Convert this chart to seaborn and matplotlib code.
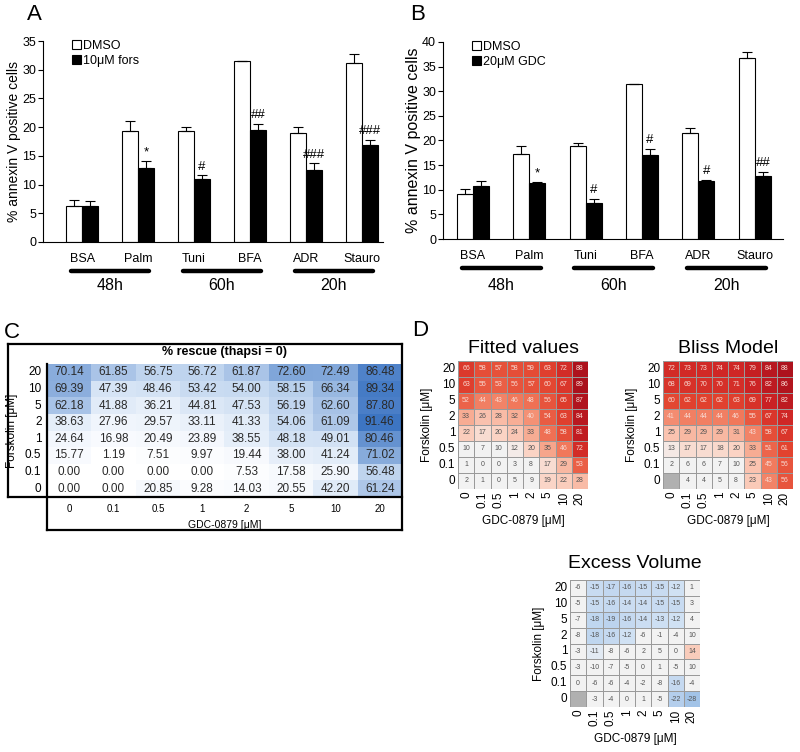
import numpy as np
import pandas as pd
import matplotlib
matplotlib.use('Agg')
import matplotlib.pyplot as plt
import seaborn as sns
from matplotlib.colors import LinearSegmentedColormap
from matplotlib.lines import Line2D

sns.set_theme(style='ticks')
plt.rcParams['font.family'] = ['Liberation Sans', 'DejaVu Sans']
plt.rcParams.update({'text.color': 'black', 'axes.labelcolor': 'black',
                     'xtick.color': 'black', 'ytick.color': 'black',
                     'axes.edgecolor': 'black'})

# ---------------- data ----------------
categories = ['BSA', 'Palm', 'Tuni', 'BFA', 'ADR', 'Stauro']
time_groups = ['48h', '60h', '20h']

a_dmso = [6.3, 19.3, 19.3, 31.5, 18.9, 31.1]
a_dmso_err = [1.1, 1.7, 0.7, 0.0, 1.2, 1.7]
a_fors = [6.3, 12.8, 11.0, 19.5, 12.6, 16.9]
a_fors_err = [0.9, 1.3, 0.6, 1.1, 1.1, 0.9]
a_marks = ['', '*', '#', '##', '###', '###']

b_dmso = [9.2, 17.2, 18.9, 31.5, 21.6, 36.8]
b_dmso_err = [0.9, 1.7, 0.5, 0.0, 0.9, 1.2]
b_gdc = [10.7, 11.3, 7.4, 17.0, 11.8, 12.8]
b_gdc_err = [1.0, 0.3, 0.7, 1.3, 0.2, 0.9]
b_marks = ['', '*', '#', '#', '#', '##']

forskolin = ['20', '10', '5', '2', '1', '0.5', '0.1', '0']
gdc = ['0', '0.1', '0.5', '1', '2', '5', '10', '20']

rescue = [
    [70.14, 61.85, 56.75, 56.72, 61.87, 72.60, 72.49, 86.48],
    [69.39, 47.39, 48.46, 53.42, 54.00, 58.15, 66.34, 89.34],
    [62.18, 41.88, 36.21, 44.81, 47.53, 56.19, 62.60, 87.80],
    [38.63, 27.96, 29.57, 33.11, 41.33, 54.06, 61.09, 91.46],
    [24.64, 16.98, 20.49, 23.89, 38.55, 48.18, 49.01, 80.46],
    [15.77, 1.19, 7.51, 9.97, 19.44, 38.00, 41.24, 71.02],
    [0.00, 0.00, 0.00, 0.00, 7.53, 17.58, 25.90, 56.48],
    [0.00, 0.00, 20.85, 9.28, 14.03, 20.55, 42.20, 61.24],
]
fitted = [
    [66, 58, 57, 58, 59, 63, 72, 88],
    [63, 55, 53, 56, 57, 60, 67, 89],
    [52, 44, 43, 46, 48, 56, 65, 87],
    [33, 26, 28, 32, 40, 54, 63, 84],
    [22, 17, 20, 24, 33, 48, 58, 81],
    [10, 7, 10, 12, 20, 35, 46, 72],
    [1, 0, 0, 3, 8, 17, 29, 53],
    [2, 1, 0, 5, 9, 19, 22, 28],
]
bliss = [
    [72, 73, 73, 74, 74, 79, 84, 88],
    [68, 69, 70, 70, 71, 76, 82, 86],
    [60, 62, 62, 62, 63, 69, 77, 82],
    [41, 44, 44, 44, 46, 55, 67, 74],
    [25, 29, 29, 29, 31, 43, 58, 67],
    [13, 17, 17, 18, 20, 33, 51, 61],
    [2, 6, 6, 7, 10, 25, 45, 56],
    [np.nan, 4, 4, 5, 8, 23, 43, 56],
]
excess = [
    [-6, -15, -17, -16, -15, -15, -12, 1],
    [-5, -15, -16, -14, -14, -15, -15, 3],
    [-7, -18, -19, -16, -14, -13, -12, 4],
    [-8, -18, -16, -12, -6, -1, -4, 10],
    [-3, -11, -8, -6, 2, 5, 0, 14],
    [-3, -10, -7, -5, 0, 1, -5, 10],
    [0, -6, -6, -4, -2, -8, -16, -4],
    [np.nan, -3, -4, 0, 1, -5, -22, -28],
]

# ---------------- layout helpers ----------------
W, H = 800, 752
fig = plt.figure(figsize=(W / 100, H / 100), dpi=100)


def rect(x0, y0, x1, y1):
    return [x0 / W, 1 - y1 / H, (x1 - x0) / W, (y1 - y0) / H]


def fline(x0, y0, x1, y1, lw=1.6):
    fig.add_artist(Line2D([x0 / W, x1 / W], [1 - y0 / H, 1 - y1 / H],
                          transform=fig.transFigure, color='black', lw=lw,
                          solid_capstyle='projecting'))


# ---------------- bar panels ----------------
def bar_panel(ax, dmso, dmso_err, treat, treat_err, marks, treat_label,
              xlim, ymax, ylabel_size, line_y, text_y):
    df = pd.DataFrame({'cat': categories * 2, 'val': dmso + treat,
                       'grp': ['DMSO'] * 6 + [treat_label] * 6})
    sns.barplot(data=df, x='cat', y='val', hue='grp', palette=['white', 'black'],
                edgecolor='black', linewidth=0.8, width=0.57, errorbar=None,
                saturation=1, ax=ax)
    for cont, vals, errs in zip(ax.containers, [dmso, treat], [dmso_err, treat_err]):
        xs = [p.get_x() + p.get_width() / 2 for p in cont]
        ax.errorbar(xs, vals, yerr=[np.zeros(len(vals)), errs], fmt='none',
                    ecolor='black', elinewidth=0.8, capsize=3.5, capthick=0.8)
    cont = ax.containers[1]
    for p, v, e, m in zip(cont, treat, treat_err, marks):
        if m:
            ax.annotate(m, (p.get_x() + p.get_width() / 2, v + e), xytext=(0, 2),
                        textcoords='offset points', ha='center', va='bottom',
                        fontsize=9.5)
    ax.set_xlim(*xlim)
    ax.set_ylim(0, ymax)
    ax.set_yticks(np.arange(0, ymax + 1, 5))
    ax.set_xlabel('')
    ax.set_ylabel('% annexin V positive cells', fontsize=ylabel_size, labelpad=1)
    sns.despine(ax=ax)
    for s in ['left', 'bottom']:
        ax.spines[s].set_linewidth(0.8)
    ax.tick_params(axis='y', length=3.5, width=0.8, labelsize=9, pad=1.5)
    ax.tick_params(axis='x', length=0, labelsize=9, pad=8)
    ax.legend(loc='upper left', bbox_to_anchor=(0.07, 1.03), frameon=False,
              handlelength=0.7, handleheight=0.7, handletextpad=0.2,
              labelspacing=0.25, fontsize=9, borderaxespad=0)
    tr = ax.get_xaxis_transform()
    for c, lab in zip([0.5, 2.5, 4.5], time_groups):
        ax.add_line(Line2D([c - 0.7, c + 0.7], [line_y, line_y], transform=tr,
                           color='black', lw=3.2, clip_on=False))
        ax.text(c, text_y, lab, transform=tr, ha='center', va='center',
                fontsize=11.5)


axA = fig.add_axes(rect(43, 41, 383, 242))
bar_panel(axA, a_dmso, a_dmso_err, a_fors, a_fors_err, a_marks, '10μM fors',
          (-0.70, 5.38), 35, 10, -29 / 201, -44 / 201)
axB = fig.add_axes(rect(443, 42, 783, 239))
bar_panel(axB, b_dmso, b_dmso_err, b_gdc, b_gdc_err, b_marks, '20μM GDC',
          (-0.53, 5.5), 40, 11.5, -29 / 197, -47 / 197)

# ---------------- panel C table ----------------
blues = LinearSegmentedColormap.from_list(
    'tbl', [(0, '#ffffff'), (0.25, '#f5f8fd'), (0.45, '#e2ecf8'),
            (0.6, '#c5d8f0'), (0.75, '#8eb0de'), (1, '#3c74c2')])
axC = fig.add_axes(rect(47, 364, 402, 497))
dfC = pd.DataFrame(rescue, index=forskolin, columns=gdc)
sns.heatmap(dfC, ax=axC, cmap=blues, vmin=0, vmax=92, annot=True, fmt='.2f',
            annot_kws={'size': 8.5, 'color': '#2a2a2a'}, cbar=False,
            xticklabels=gdc, yticklabels=forskolin)
axC.tick_params(axis='y', length=0, labelsize=8.5, pad=4, labelrotation=0)
axC.tick_params(axis='x', length=0, labelsize=7, pad=5, labelrotation=0)
axC.set_xlabel('GDC-0879 [μM]', fontsize=7.5, labelpad=4)
axC.set_ylabel('Forskolin [μM]', fontsize=8.5, labelpad=5)
fig.text(225 / W, 1 - 352 / H, '% rescue (thapsi = 0)', ha='center', va='center',
         fontsize=9, fontweight='bold')
# table frame
fline(8, 344, 402, 344)
fline(8, 344, 8, 497)
fline(402, 344, 402, 530)
fline(8, 497, 402, 497)
fline(47, 364, 47, 530)
fline(47, 530, 402, 530)

# ---------------- panel D heatmaps ----------------
reds = LinearSegmentedColormap.from_list(
    'fit', [(0, '#f2f2f2'), (0.11, '#f2f2f2'), (0.22, '#fbd3c4'), (0.38, '#f7a88e'),
            (0.52, '#f07457'), (0.68, '#e2432f'), (0.85, '#cc2224'), (1, '#a8101c')])
divs = LinearSegmentedColormap.from_list(
    'exc', [(0, '#9dbfe6'), (0.31, '#d2e2f4'), (0.325, '#f2f2f2'), (0.675, '#f2f2f2'),
            (0.69, '#fbd8c8'), (1, '#f0826a')])


def heat(ax, data, cmap, vmin, vmax, title, tpad):
    df = pd.DataFrame(data, index=forskolin, columns=gdc)
    ax.set_facecolor('#b0b0b0')
    sns.heatmap(df, ax=ax, cmap=cmap, vmin=vmin, vmax=vmax, annot=True, fmt='.0f',
                annot_kws={'size': 5}, linewidths=0.7, linecolor='#9a9a9a',
                cbar=False, xticklabels=gdc, yticklabels=forskolin)
    for t in ax.texts:
        t.set_color('#f7d8d0' if t.get_color() == 'w' else '#555555')
    ax.tick_params(axis='y', labelrotation=0)
    ax.tick_params(axis='x', labelrotation=90)
    ax.tick_params(length=0, labelsize=8.5, pad=2)
    ax.set_xlabel('GDC-0879 [μM]', fontsize=8.5, labelpad=5)
    ax.set_ylabel('Forskolin [μM]', fontsize=8.5, labelpad=4)
    ax.set_title(title, fontsize=14, pad=tpad)


axF = fig.add_axes(rect(458, 361, 588, 489))
heat(axF, fitted, reds, 0, 90, 'Fitted values', 6)
axBl = fig.add_axes(rect(663, 361, 793, 489))
heat(axBl, bliss, reds, 0, 90, 'Bliss Model', 6)
axE = fig.add_axes(rect(570, 580, 700, 707))
heat(axE, excess, divs, -30, 30, 'Excess Volume', 9)

# ---------------- panel labels ----------------
for lab, x, y in [('A', 27, 4), ('B', 410, 4), ('C', 4, 322), ('D', 412, 320)]:
    fig.text(x / W, 1 - y / H, lab, fontsize=16, va='top', ha='left')

fig.savefig('out.png', dpi=100)
